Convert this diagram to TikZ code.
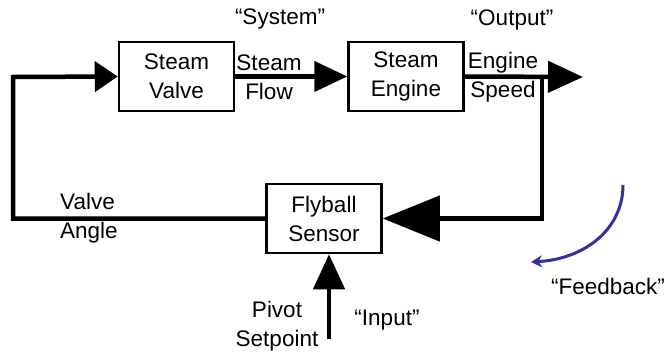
\documentclass[tikz,border=0pt]{standalone}
\usepackage{fontspec}
\setmainfont{Liberation Sans}
\usetikzlibrary{arrows.meta}
\definecolor{fbblue}{RGB}{51,51,160}
\begin{document}
\begin{tikzpicture}[x=1pt, y=1pt,
  every node/.style={font=\fontsize{22.5}{29}\selectfont, align=center, inner sep=0pt},
  block/.style={draw, line width=2.5pt, minimum width=115pt, minimum height=69pt},
  signal/.style={line width=4.5pt}]
\useasboundingbox (0,0) rectangle (666,354);

% Blocks
\node[block] (valve) at (176.5,277.5) {Steam\\Valve};
\node[block] (engine) at (406,277.5) {Steam\\Engine};
\node[block] (flyball) at (324,135.5) {Flyball\\Sensor};

% Corners and ends
\coordinate (topleft) at (13,277);
\coordinate (out) at (583,277);
\coordinate (split) at (542,277);
\coordinate (pivot) at (329,15);

% Signals
\draw[signal, -{Triangle[length=23pt,width=30pt]}] (flyball.west) -| (topleft) -- (valve.west);
\draw[signal, -{Triangle[length=33pt,width=30pt]}] (valve.east) -- (engine.west);
\draw[signal, -{Triangle[length=35pt,width=31pt]}] (engine.east) -- (out);
\draw[signal, -{Triangle[length=57pt,width=45pt]}] (split) |- (flyball.east);
\draw[signal, -{Triangle[length=35pt,width=31pt]}] (pivot) -- (pivot |- flyball.south);

% Labels
\node (system) at (280,335) {“System”};
\node (output) at (512,334) {“Output”};
\node (flow) at (269,277) {Steam\\Flow};
\node (speed) at (503,277) {Engine\\Speed};
\node[anchor=west, align=left] (angle) at (60,135.5) {Valve\\Angle};
\node (setpoint) at (277,27.5) {Pivot\\Setpoint};
\node (input) at (387,34) {“Input”};
\node (feedback) at (608,68) {“Feedback”};

% Feedback arc
\draw[fbblue, line width=3pt, -{Stealth[length=11pt,width=12pt]}] (623,169) .. controls (623,125) and (585,95) .. (531,92);
\end{tikzpicture}
\end{document}
